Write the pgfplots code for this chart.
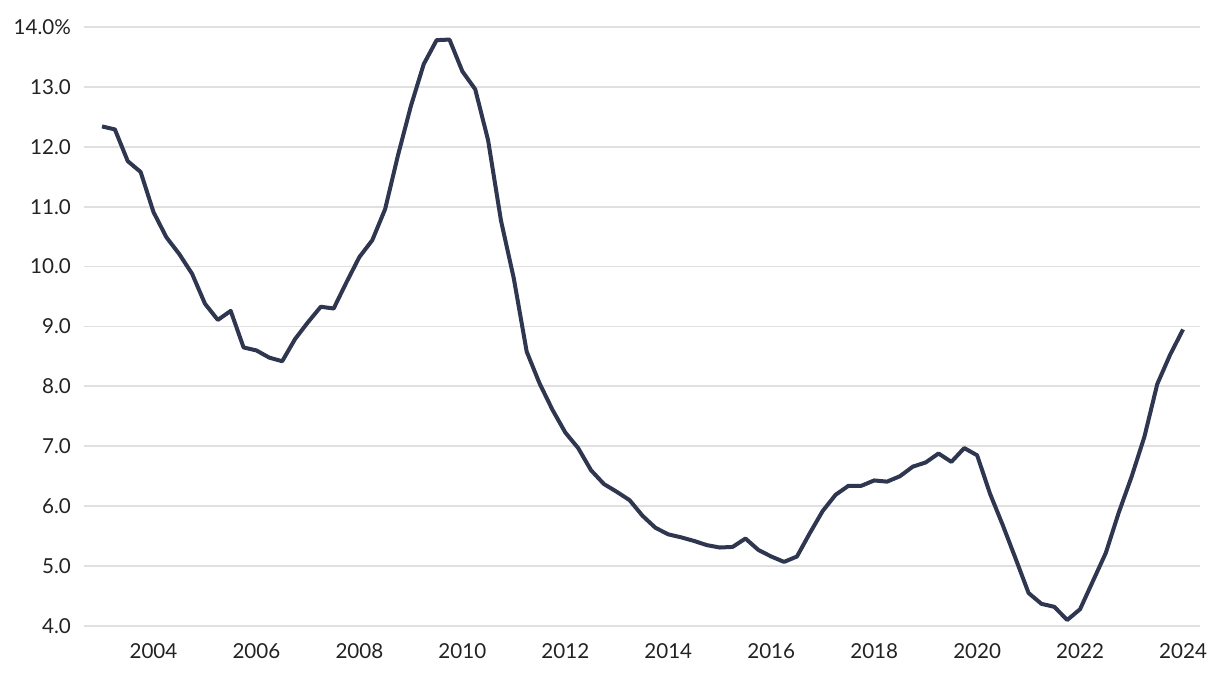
\documentclass[border=0pt]{standalone}
\usepackage{pgfplots}
\pgfplotsset{compat=1.18}
\usepackage{fontspec}
\setmainfont{Lato}
\definecolor{linec}{HTML}{2E3650}
\definecolor{gridc}{HTML}{E0E0E0}
\definecolor{textc}{HTML}{222222}
\begin{document}
\begin{tikzpicture}
\path[use as bounding box] (-42pt,-26pt) rectangle (568pt,313pt);
\begin{axis}[
  scale only axis,
  width=558pt, height=299.5pt,
  xmin=2002.65, xmax=2024.33,
  ymin=4, ymax=14,
  axis line style={draw=none},
  major tick length=0pt,
  xtick={2004,2006,...,2024},
  ytick={4,5,...,14},
  yticklabels={4.0,5.0,6.0,7.0,8.0,9.0,10.0,11.0,12.0,13.0,14.0\%},
  xticklabel={\pgfmathprintnumber[1000 sep={}]{\tick}},
  ymajorgrids,
  grid style={gridc, line width=0.9pt},
  tick label style={font=\fontsize{10.3}{11}\selectfont, text=textc},
  yticklabel style={xshift=-3pt},
  xticklabel style={yshift=-5.5pt},
  /pgf/number format/assume math mode=true,
  clip=false,
]
\addplot[linec, line width=2pt, line join=round] table {
x y
2003.00 12.34
2003.25 12.29
2003.50 11.76
2003.75 11.58
2004.00 10.91
2004.25 10.49
2004.50 10.21
2004.75 9.88
2005.00 9.38
2005.25 9.11
2005.50 9.26
2005.75 8.65
2006.00 8.60
2006.25 8.48
2006.50 8.42
2006.75 8.79
2007.00 9.07
2007.25 9.33
2007.50 9.30
2007.75 9.74
2008.00 10.16
2008.25 10.44
2008.50 10.96
2008.75 11.86
2009.00 12.68
2009.25 13.38
2009.50 13.78
2009.75 13.79
2010.00 13.26
2010.25 12.96
2010.50 12.11
2010.75 10.77
2011.00 9.80
2011.25 8.58
2011.50 8.05
2011.75 7.61
2012.00 7.23
2012.25 6.97
2012.50 6.60
2012.75 6.37
2013.00 6.24
2013.25 6.10
2013.50 5.84
2013.75 5.64
2014.00 5.53
2014.25 5.48
2014.50 5.42
2014.75 5.35
2015.00 5.31
2015.25 5.32
2015.50 5.46
2015.75 5.27
2016.00 5.16
2016.25 5.07
2016.50 5.16
2016.75 5.55
2017.00 5.92
2017.25 6.19
2017.50 6.34
2017.75 6.34
2018.00 6.43
2018.25 6.41
2018.50 6.50
2018.75 6.66
2019.00 6.73
2019.25 6.88
2019.50 6.74
2019.75 6.97
2020.00 6.85
2020.25 6.21
2020.50 5.68
2020.75 5.12
2021.00 4.55
2021.25 4.37
2021.50 4.32
2021.75 4.10
2022.00 4.28
2022.25 4.75
2022.50 5.22
2022.75 5.89
2023.00 6.49
2023.25 7.16
2023.50 8.04
2023.75 8.53
2024.00 8.95
};
\end{axis}
\end{tikzpicture}
\end{document}
